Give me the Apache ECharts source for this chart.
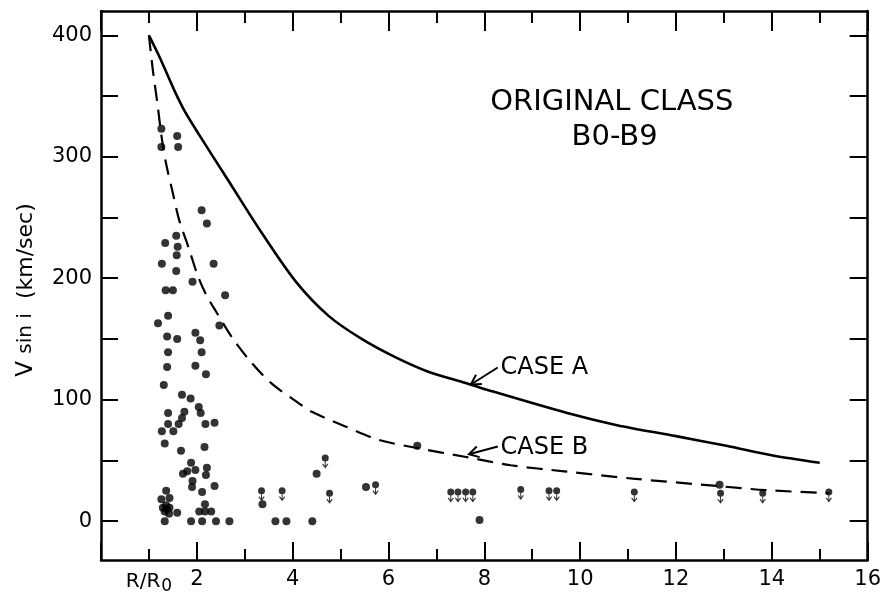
<!DOCTYPE html>
<html><head><meta charset="utf-8">
<script src="https://cdn.jsdelivr.net/npm/echarts@6/dist/echarts.min.js"></script>
<style>html,body{margin:0;padding:0;background:#fff}#c{width:884px;height:595px}</style>
</head><body><div id="c"></div>
<script>
// ---- data ----
const caseA = [[1.0,400],[1.2,384],[1.37,369],[1.55,353],[1.74,338],[2.05,318],[2.68,279],[3.36,237],[4.07,197],[4.75,169],[5.44,150],[6.14,135],[6.83,123],[7.51,115],[8.07,108],[9.73,89],[10.77,79],[12.0,70],[13.05,62],[14.02,54],[15.0,48]];
const caseB = [[1.0,400],[1.08,372],[1.18,343],[1.27,315],[1.36,294],[1.5,270],[1.63,248],[1.83,225],[2.02,202],[2.2,186],[2.41,172],[2.74,151],[3.13,131],[3.57,113],[4.13,97],[4.4,90],[5.1,78],[5.79,67],[6.62,60],[7.59,53],[8.55,46],[9.67,41],[11.1,35],[12.84,29],[13.88,25.5],[15.2,23]];
const stars = [[1.26,323],[1.59,317],[1.26,308],[1.61,308],[2.10,256],[2.21,245],[1.57,235],[1.34,229],[1.60,226],[1.58,219],[1.27,212],[2.35,212],[1.57,206],[1.91,197],[1.35,190],[1.50,190],[2.59,186],
[1.19,163],[1.40,169],[2.47,161],[1.38,152],[1.59,150],[1.97,155],[2.07,149],[1.40,139],[2.10,139],[1.38,127],[1.97,128],[2.19,121],[1.31,112],[1.69,104],[1.87,101],[2.04,94],[2.08,89],[1.40,89],[1.74,90],[1.69,85],[1.62,80],[1.40,80],[2.18,80],[2.37,81],[1.27,74],[1.51,74],[1.33,64],[2.16,61],[1.67,58],
[1.88,48],[1.71,39],[1.80,41],[1.97,42],[2.21,44],[2.19,38],[1.91,33],[1.90,28],[2.37,29],[2.11,24],[1.36,25],[1.26,18],[1.43,19],[1.29,11],[1.36,13],[1.43,11],[1.33,8],[1.42,6],[1.38,10],[1.59,7],[2.05,8],[2.17,14],[2.17,8],[2.30,8],
[1.33,0],[1.88,0],[2.11,0],[2.40,0],[2.68,0],[3.64,0],[3.87,0],[4.41,0],[7.90,1],
[3.37,14],[4.50,39],[5.53,28],[6.60,62],[12.91,30]];
const upperLimits = [[3.35,25],[3.78,25],[4.68,52],[4.77,23],[5.73,30],[7.30,24],[7.45,24],[7.61,24],[7.76,24],[8.76,26],[9.35,25],[9.51,25],[11.13,24],[12.93,23],[13.81,23],[15.19,24]];
const xLabelValues = [1,2,4,6,8,10,12,14,16];
const yLabelValues = [0,100,200,300,400];
const yTickValues = [0,50,100,150,200,250,300,350,400];
const titleLines = ['ORIGINAL CLASS','B0-B9'];
const caseLabels = ['CASE A','CASE B'];

const FONT = 'DejaVu Sans';
const INK = '#000';
const arrowSymbol = 'path://M0 3.5 A3.5 3.5 0 1 1 7 3.5 A3.5 3.5 0 1 1 0 3.5 Z M3 7 L4 7 L4 11.2 L5.8 9 L6.6 9.7 L3.5 14 L0.4 9.7 L1.2 9 L3 11.2 Z';

const chart = echarts.init(document.getElementById('c'), null, {renderer:'canvas'});
const axisLine = {show:true, onZero:false, lineStyle:{color:INK, width:2.5}};
chart.setOption({
  animation:false,
  backgroundColor:'#fff',
  grid:{left:101, right:12, top:11, bottom:33, containLabel:false},
  xAxis:[
    {type:'value', min:0, max:16, interval:2, position:'bottom',
     axisLine:axisLine,
     axisTick:{show:true, inside:true, length:18, lineStyle:{color:INK, width:2}},
     minorTick:{show:true, splitNumber:2, length:11, lineStyle:{color:INK, width:2}},
     axisLabel:{customValues:xLabelValues, margin:9, color:INK, fontFamily:FONT, fontSize:21,
       formatter:v=> v===1 ? '{r|R/R}{s|0}' : String(v),
       rich:{r:{fontFamily:FONT, fontSize:20, color:INK}, s:{fontFamily:FONT, fontSize:17, color:INK, padding:[9,0,0,1]}}},
     splitLine:{show:false}},
    {type:'value', min:0, max:16, interval:2, position:'top',
     axisLine:axisLine,
     axisTick:{show:true, inside:true, length:20, lineStyle:{color:INK, width:2}},
     minorTick:{show:true, splitNumber:2, length:12, lineStyle:{color:INK, width:2}},
     axisLabel:{show:false}, splitLine:{show:false}}
  ],
  yAxis:[
    {type:'value', min:-32, max:420, position:'left',
     axisLine:axisLine,
     axisTick:{show:true, inside:true, length:17, customValues:yTickValues, lineStyle:{color:INK, width:2}},
     axisLabel:{customValues:yLabelValues, margin:9, color:INK, fontFamily:FONT, fontSize:21},
     splitLine:{show:false}},
    {type:'value', min:-32, max:420, position:'right',
     axisLine:axisLine,
     axisTick:{show:true, inside:true, length:18, customValues:yTickValues, lineStyle:{color:INK, width:2}},
     axisLabel:{show:false}, splitLine:{show:false}}
  ],
  series:[
    {type:'line', name:'Case A', data:caseA, smooth:0.3, symbol:'none', lineStyle:{color:INK, width:2.6}, z:2},
    {type:'line', name:'Case B', data:caseB, smooth:0.3, symbol:'none', lineStyle:{color:INK, width:2.2, type:[16,9]}, z:2},
    {type:'scatter', name:'stars', data:stars, symbol:'circle', symbolSize:8, itemStyle:{color:INK}, z:3},
    {type:'scatter', name:'upper limits', data:upperLimits, symbol:arrowSymbol, symbolSize:[7,14], symbolOffset:[0,3.5], itemStyle:{color:INK}, z:3}
  ]
});

// ---- annotations placed in data coordinates ----
const px = (x,y)=>chart.convertToPixel({xAxisIndex:0, yAxisIndex:0},[x,y]);
function arrow(from, to){
  const a = px(from[0],from[1]), b = px(to[0],to[1]);
  const dx=a[0]-b[0], dy=a[1]-b[1], L=Math.hypot(dx,dy), ux=dx/L, uy=dy/L;
  const hl=11, ang=Math.PI/6;
  const w1=[b[0]+hl*(ux*Math.cos(ang)-uy*Math.sin(ang)), b[1]+hl*(ux*Math.sin(ang)+uy*Math.cos(ang))];
  const w2=[b[0]+hl*(ux*Math.cos(-ang)-uy*Math.sin(-ang)), b[1]+hl*(ux*Math.sin(-ang)+uy*Math.cos(-ang))];
  return [
    {type:'polyline', shape:{points:[a,b]}, style:{stroke:INK, lineWidth:2, fill:null}},
    {type:'polyline', shape:{points:[w1,b,w2]}, style:{stroke:INK, lineWidth:2, fill:null}}
  ];
}
function text(str, at, size, align){
  const p = px(at[0],at[1]);
  return {type:'text', x:p[0], y:p[1], style:{text:str, fill:INK, font:`${size}px "${FONT}"`, align:align||'center', verticalAlign:'middle'}};
}
const g = [];
g.push(text(titleLines[0],[10.66,345],29));
g.push(text(titleLines[1],[10.72,316],29));
g.push(text(caseLabels[0],[8.34,126],24,'left'));
g.push(text(caseLabels[1],[8.34,60],24,'left'));
g.push(...arrow([8.28,126.5],[7.72,112.5]));
g.push(...arrow([8.28,61.5],[7.68,55]));
g.push({type:'text', x:26, y:290, rotation:Math.PI/2,
  style:{text:'{v|V }{s|sin i}{p|  (km/sec)}', align:'center', verticalAlign:'middle',
   rich:{p:{fontFamily:FONT, fontSize:22, fill:INK}, v:{fontFamily:FONT, fontSize:23, fill:INK}, s:{fontFamily:FONT, fontSize:20, fill:INK}}}});
chart.setOption({graphic:g});
</script></body></html>
